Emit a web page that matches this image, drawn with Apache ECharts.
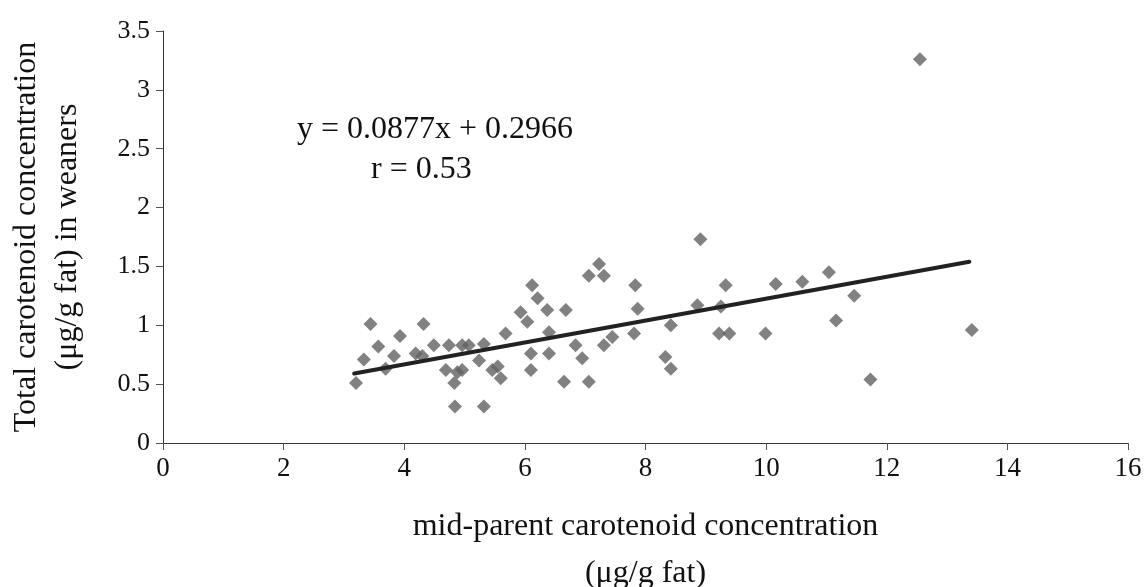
<!DOCTYPE html>
<html>
<head>
<meta charset="utf-8">
<script src="https://cdn.jsdelivr.net/npm/echarts@6/dist/echarts.min.js"></script>
<style>html,body{margin:0;padding:0;background:#fff;}#c{width:1144px;height:587px;}</style>
</head>
<body>
<div id="c"></div>
<script>
// mid-parent carotenoid concentration (x) vs weaner concentration (y)
const xValues = [3.20,3.33,3.44,3.57,3.69,3.83,3.93,4.19,4.32,4.30,4.49,4.69,4.74,4.83,4.84,4.88,4.96,4.96,5.07,5.24,5.32,5.32,5.46,5.60,5.55,5.68,5.93,6.04,6.12,6.21,6.10,6.10,6.37,6.40,6.40,6.68,6.65,6.84,6.95,7.06,7.06,7.23,7.31,7.31,7.45,7.83,7.87,7.81,8.33,8.42,8.42,8.86,8.91,9.25,9.33,9.22,9.39,9.99,10.16,10.60,11.04,11.16,11.46,11.73,12.55,13.41];
const yValues = [0.51,0.71,1.01,0.82,0.63,0.74,0.91,0.76,1.01,0.74,0.83,0.62,0.83,0.51,0.31,0.60,0.83,0.62,0.83,0.70,0.84,0.31,0.62,0.55,0.65,0.93,1.11,1.03,1.34,1.23,0.76,0.62,1.13,0.94,0.76,1.13,0.52,0.83,0.72,0.52,1.42,1.52,1.42,0.83,0.90,1.34,1.14,0.93,0.73,0.63,1.00,1.17,1.73,1.16,1.34,0.93,0.93,0.93,1.35,1.37,1.45,1.04,1.25,0.54,3.26,0.96];
// trend line endpoints
const trendX = [3.17, 13.37];
const trendY = [0.59, 1.54];
const xTicks = [0,2,4,6,8,10,12,14,16];
const yTicks = [0,0.5,1,1.5,2,2.5,3,3.5];
const equationText = 'y = 0.0877x + 0.2966';
const rText = 'r = 0.53';
const xTitle = 'mid-parent carotenoid concentration\n(μg/g fat)';
const yTitle = 'Total carotenoid concentration\n(μg/g fat) in weaners';

const points = xValues.map((x, i) => [x, yValues[i]]);
const trend = trendX.map((x, i) => [x, trendY[i]]);
const font = 'Liberation Serif';

const chart = echarts.init(document.getElementById('c'));
chart.setOption({
  animation: false,
  backgroundColor: '#fff',
  grid: { left: 163, right: 16, top: 31, bottom: 144, containLabel: false, outerBoundsMode: 'none' },
  xAxis: {
    type: 'value', min: 0, max: 16, interval: 2,
    axisLine: { show: true, lineStyle: { color: '#333', width: 1 } },
    axisTick: { show: true, length: 7, lineStyle: { color: '#555' } },
    splitLine: { show: false },
    axisLabel: { color: '#111', fontFamily: font, fontSize: 27, margin: 12 },
    name: xTitle, nameLocation: 'middle', nameGap: 60,
    nameTextStyle: { color: '#111', fontFamily: font, fontSize: 32, lineHeight: 47 }
  },
  yAxis: {
    type: 'value', min: 0, max: 3.5, interval: 0.5,
    axisLine: { show: true, onZero: false, lineStyle: { color: '#333', width: 1 } },
    axisTick: { show: true, length: 7, lineStyle: { color: '#555' } },
    splitLine: { show: false },
    axisLabel: { color: '#111', fontFamily: font, fontSize: 26, margin: 13 },
    name: yTitle, nameLocation: 'middle', nameGap: 75, nameRotate: 90,
    nameTextStyle: { color: '#111', fontFamily: font, fontSize: 32, lineHeight: 41 }
  },
  graphic: [
    { type: 'text', left: 297, top: 114, style: { text: equationText, fill: '#111', font: '32px "Liberation Serif"' } },
    { type: 'text', left: 371, top: 154, style: { text: rText, fill: '#111', font: '32px "Liberation Serif"' } }
  ],
  series: [
    {
      type: 'scatter', data: points, symbol: 'diamond', symbolSize: 14,
      itemStyle: { color: '#626262' }, z: 2
    },
    {
      type: 'line', data: trend, symbol: 'none',
      lineStyle: { color: '#222', width: 4, cap: 'round' }, z: 3
    }
  ]
});
</script>
</body>
</html>
